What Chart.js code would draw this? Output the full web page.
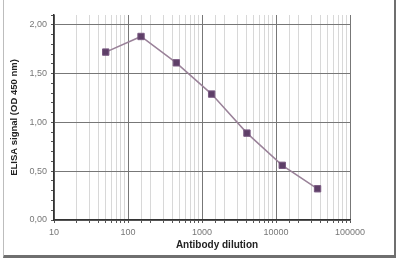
<!DOCTYPE html>
<html>
<head>
<meta charset="utf-8">
<script src="https://cdn.jsdelivr.net/npm/chart.js@4/dist/chart.umd.min.js"></script>
<style>
  html, body { margin: 0; padding: 0; background: #fff; }
  #wrap { position: relative; width: 400px; height: 261px; overflow: hidden; }
  #frame {
    position: absolute; left: 3px; top: -2px; width: 390px; height: 257px;
    border-left: 1px solid #bdbdbd; border-right: 2px solid #6f6f6f; border-bottom: 3px solid #6f6f6f;
  }
  canvas { position: absolute; left: 0; top: 0; }
</style>
</head>
<body>
<div id="wrap">
  <div id="frame"></div>
  <canvas id="chart" width="400" height="261"></canvas>
</div>
<script>
'use strict';

// Antibody dilution (x) vs ELISA signal (y)
const dilutions = [50, 150, 450, 1350, 4050, 12150, 36450];
const signal    = [1.72, 1.88, 1.61, 1.29, 0.89, 0.56, 0.32];

const xTitle = 'Antibody dilution';
const yTitle = 'ELISA signal (OD 450 nm)';

const FONT = '"Liberation Sans", Arial, sans-serif';

const isDecade = v => Math.abs(Math.log10(v) - Math.round(Math.log10(v))) < 1e-9;
const isHalf   = v => Math.abs(v * 2 - Math.round(v * 2)) < 1e-6;

// x axis title sits a little right of the plot centre in the original
const xTitlePlugin = {
  id: 'xTitle',
  afterDraw(chart) {
    const ctx = chart.ctx;
    ctx.save();
    ctx.font = 'bold 10px ' + FONT;
    ctx.fillStyle = '#222';
    ctx.textAlign = 'center';
    ctx.textBaseline = 'middle';
    ctx.fillText(xTitle, 217, 245);
    ctx.restore();
  },
};

new Chart(document.getElementById('chart'), {
  type: 'line',
  data: {
    datasets: [{
      data: dilutions.map((d, i) => ({ x: d, y: signal[i] })),
      borderColor: '#9a8299',
      borderWidth: 1.5,
      pointStyle: 'rect',
      pointRadius: 4.5,
      pointBackgroundColor: '#5e3f68',
      pointBorderColor: '#7a5a82',
      pointBorderWidth: 1,
      tension: 0,
    }],
  },
  options: {
    responsive: false,
    animation: false,
    layout: { padding: { top: 15, right: 50, left: 0, bottom: 0 } },
    plugins: {
      legend:  { display: false },
      tooltip: { enabled: false },
    },
    scales: {
      x: {
        type: 'logarithmic',
        min: 10,
        max: 100000,
        afterFit: s => { s.height = 41; },
        border: { color: '#333', width: 1.5 },
        grid: {
          color: c => isDecade(c.tick.value) ? '#777' : '#d8d8d8',
          lineWidth: 1,
          tickLength: 3,
          tickColor: '#555',
        },
        ticks: {
          autoSkip: false,
          maxRotation: 0,
          padding: 4,
          color: '#777',
          font: { family: FONT, size: 9 },
          callback: v => isDecade(v) ? String(Math.round(v)) : '',
        },
      },
      y: {
        min: 0,
        max: 2.1,
        afterFit: s => { s.width = 54; },
        border: { color: '#333', width: 1.5 },
        grid: {
          color: c => isHalf(c.tick.value) ? '#777' : 'rgba(0,0,0,0)',
          lineWidth: 1,
          tickLength: 3,
          tickColor: '#555',
        },
        ticks: {
          stepSize: 0.1,
          autoSkip: false,
          padding: 4,
          color: '#777',
          font: { family: FONT, size: 9 },
          callback: v => (isHalf(v) && v <= 2.0001) ? v.toFixed(2).replace('.', ',') : '',
        },
        title: {
          display: true,
          text: yTitle,
          color: '#222',
          padding: { top: 9 },
          font: { family: FONT, size: 9.5, weight: 'bold' },
        },
      },
    },
  },
  plugins: [xTitlePlugin],
});
</script>
</body>
</html>
